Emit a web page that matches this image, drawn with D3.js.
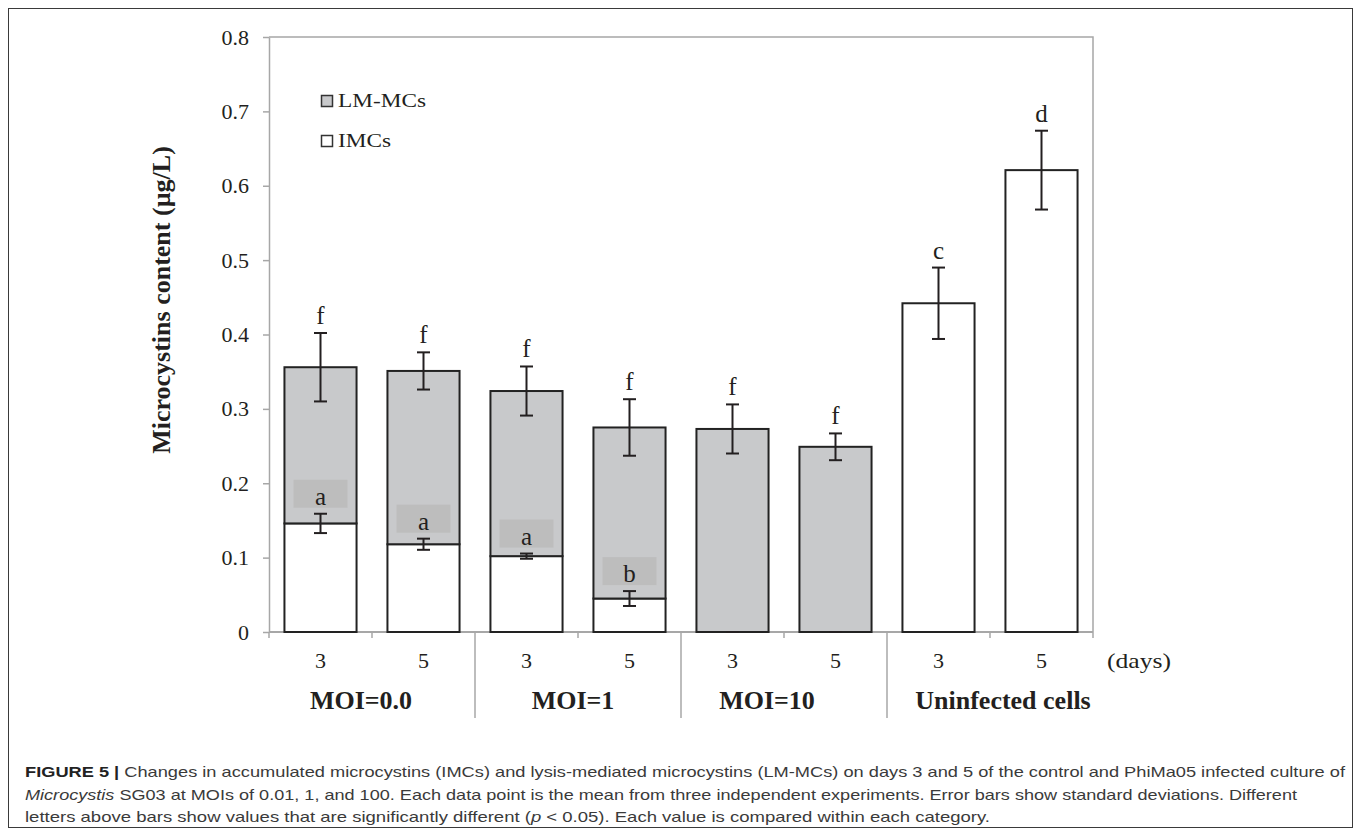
<!DOCTYPE html>
<html><head><meta charset="utf-8">
<script src="https://cdn.jsdelivr.net/npm/d3@7/dist/d3.min.js"></script>
<style>
html,body{margin:0;padding:0;background:#fff;}
svg{display:block;}
</style></head>
<body>
<svg id="chart" width="1357" height="835"></svg>
<script>
// ---- data ----
const days = ["3","5","3","5","3","5","3","5"];
const groups = ["MOI=0.0","MOI=1","MOI=10","Uninfected cells"];
const imcs    = [0.146, 0.118, 0.102, 0.045, 0, 0, 0.442, 0.621];
const imcErr  = [0.013, 0.0075, 0.0035, 0.010, 0, 0, 0.048, 0.053];
const lmmcs   = [0.210, 0.233, 0.222, 0.230, 0.273, 0.249, 0, 0];
const lmmcErr = [0.046, 0.025, 0.033, 0.038, 0.033, 0.018, 0, 0];
const topLetters = ["f","f","f","f","f","f","c","d"];
const imcLetters = ["a","a","a","b","","","",""];
const yTicks = [0,0.1,0.2,0.3,0.4,0.5,0.6,0.7,0.8];
const seriesNames = ["LM-MCs","IMCs"];
const captionLines = [
  [{t:"FIGURE 5 | ",w:"bold"},{t:"Changes in accumulated microcystins (IMCs) and lysis-mediated microcystins (LM-MCs) on days 3 and 5 of the control and PhiMa05 infected culture of"}],
  [{t:"Microcystis",s:"italic"},{t:" SG03 at MOIs of 0.01, 1, and 100. Each data point is the mean from three independent experiments. Error bars show standard deviations. Different"}],
  [{t:"letters above bars show values that are significantly different ("},{t:"p",s:"italic"},{t:" < 0.05). Each value is compared within each category."}]
];

// ---- layout ----
const svg = d3.select("#chart");
const serif = "'Liberation Serif','Times New Roman',serif";
const ink = "#231f20";
const axisGray = "#a7a7a7";
const L = 269, R = 1093, T = 37, B = 632;

svg.append("rect").attr("x",8.5).attr("y",8.5).attr("width",1344).attr("height",819)
  .attr("fill","none").attr("stroke","#3a3a3a").attr("stroke-width",1);

const x = d3.scaleBand().domain(d3.range(days.length)).range([L,R]).paddingInner(0.3).paddingOuter(0.15);
const y = d3.scaleLinear().domain([0,0.8]).range([B,T]);
const step = x.step();
const bw = x.bandwidth();

// plot frame (top + right)
svg.append("path").attr("d",`M${L},${T}H${R}V${B}`).attr("fill","none").attr("stroke",axisGray).attr("stroke-width",1.5);

// y axis
const yAxis = svg.append("g").attr("transform",`translate(${L},0)`)
  .call(d3.axisLeft(y).tickValues(yTicks).tickSize(6).tickSizeOuter(0).tickPadding(14)
    .tickFormat(d => d===0 ? "0" : d3.format(".1f")(d)));
yAxis.select(".domain").attr("stroke",axisGray).attr("stroke-width",1.5);
yAxis.selectAll(".tick line").attr("stroke",axisGray).attr("stroke-width",1.5);
yAxis.selectAll(".tick text").attr("fill",ink).style("font-family",serif).style("font-size","22px");

// y label
svg.append("text").attr("transform","translate(170,300) rotate(-90)")
  .attr("text-anchor","middle").attr("fill",ink)
  .style("font-family",serif).style("font-size","26px").style("font-weight","bold")
  .text("Microcystins content (µg/L)");

// x axis
const xa = svg.append("g");
xa.append("line").attr("x1",L).attr("x2",R).attr("y1",B).attr("y2",B).attr("stroke",axisGray).attr("stroke-width",2);
d3.range(days.length+1).forEach(i => {
  const xx = L + i*step;
  const isGroup = (i===2||i===4||i===6);
  xa.append("line").attr("x1",xx).attr("x2",xx).attr("y1",B).attr("y2",isGroup?718:638)
    .attr("stroke",axisGray).attr("stroke-width",1.5);
});
xa.selectAll("text.day").data(days).join("text").attr("class","day")
  .attr("x",(d,i)=>x(i)+bw/2).attr("y",668).attr("text-anchor","middle")
  .attr("fill",ink).style("font-family",serif).style("font-size","22px").text(d=>d);
xa.append("text").attr("x",1107).attr("y",668).attr("fill",ink)
  .style("font-family",serif).style("font-size","22px")
  .attr("textLength",64).attr("lengthAdjust","spacingAndGlyphs").text("(days)");
const groupDx = [-11,-5,-17,13];
xa.selectAll("text.grp").data(groups).join("text").attr("class","grp")
  .attr("x",(d,i)=>L + (2*i+1)*step + groupDx[i]).attr("y",709).attr("text-anchor","middle")
  .attr("fill",ink).style("font-family",serif).style("font-size","26px").style("font-weight","bold").text(d=>d);

// bars
const lmFill = "#c8c9cb";
const barStroke = "#222";
const bars = svg.append("g");
days.forEach((d,i) => {
  const x0 = x(i);
  if (imcs[i] > 0) {
    bars.append("rect").attr("x",x0).attr("y",y(imcs[i])).attr("width",bw).attr("height",y(0)-y(imcs[i]))
      .attr("fill","#fff").attr("stroke",barStroke).attr("stroke-width",2);
  }
  if (lmmcs[i] > 0) {
    const top = imcs[i]+lmmcs[i];
    bars.append("rect").attr("x",x0).attr("y",y(top)).attr("width",bw).attr("height",y(imcs[i])-y(top))
      .attr("fill",lmFill).attr("stroke",barStroke).attr("stroke-width",2);
  }
});

// letter boxes for IMC letters
const boxes = svg.append("g");
days.forEach((d,i) => {
  if (!imcLetters[i]) return;
  const cx = x(i)+bw/2;
  const base = y(imcs[i]+imcErr[i]) - 9;
  boxes.append("rect").attr("x",cx-27).attr("y",base-25).attr("width",54).attr("height",28)
    .attr("fill","#bdbdbd");
  boxes.append("text").attr("x",cx).attr("y",base).attr("text-anchor","middle").attr("fill",ink)
    .style("font-family",serif).style("font-size","25px").text(imcLetters[i]);
});

// error bars
const eb = svg.append("g").attr("stroke","#231f20").attr("stroke-width",2);
function errBar(cx, v, e){
  eb.append("line").attr("x1",cx).attr("x2",cx).attr("y1",y(v+e)).attr("y2",y(v-e));
  eb.append("line").attr("x1",cx-6.5).attr("x2",cx+6.5).attr("y1",y(v+e)).attr("y2",y(v+e));
  eb.append("line").attr("x1",cx-6.5).attr("x2",cx+6.5).attr("y1",y(v-e)).attr("y2",y(v-e));
}
days.forEach((d,i) => {
  const cx = x(i)+bw/2;
  errBar(cx, imcs[i], imcErr[i]);
  if (lmmcs[i] > 0) errBar(cx, imcs[i]+lmmcs[i], lmmcErr[i]);
});

// top letters
days.forEach((d,i) => {
  const cx = x(i)+bw/2;
  const top = lmmcs[i] > 0 ? imcs[i]+lmmcs[i]+lmmcErr[i] : imcs[i]+imcErr[i];
  svg.append("text").attr("x",cx).attr("y",y(top)-9).attr("text-anchor","middle").attr("fill",ink)
    .style("font-family",serif).style("font-size","25px").text(topLetters[i]);
});

// legend
const lg = svg.append("g");
const legFills = [lmFill, "#fff"];
const legW = [88, 53];
seriesNames.forEach((n,i) => {
  const yy = 95 + i*40;
  lg.append("rect").attr("x",321.5).attr("y",yy+0.5).attr("width",11).attr("height",11)
    .attr("fill",legFills[i]).attr("stroke","#333").attr("stroke-width",1.5);
  lg.append("text").attr("x",338).attr("y",yy+12).attr("fill",ink)
    .style("font-family",serif).style("font-size","19px")
    .attr("textLength",legW[i]).attr("lengthAdjust","spacingAndGlyphs").text(n);
});

// caption
const capW = [1320, 1272, 965];
const capY = [777, 800, 822];
captionLines.forEach((parts,i) => {
  const t = svg.append("text").attr("x",25).attr("y",capY[i]).attr("fill","#3a3a3a")
    .style("font-family","'Liberation Sans',Arial,sans-serif").style("font-size","15px")
    .attr("textLength",capW[i]).attr("lengthAdjust","spacingAndGlyphs");
  parts.forEach(p => {
    const ts = t.append("tspan").text(p.t);
    if (p.w) ts.style("font-weight",p.w).attr("fill","#222");
    if (p.s) ts.style("font-style",p.s);
  });
});
</script>
</body></html>
